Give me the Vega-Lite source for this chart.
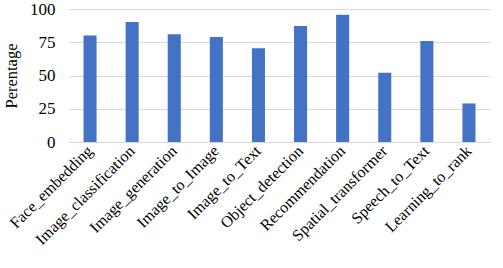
{
  "$schema": "https://vega.github.io/schema/vega-lite/v6.json",
  "width": 421,
  "height": 133,
  "autosize": "none",
  "padding": {"left": 69, "top": 9, "right": 13, "bottom": 126},
  "background": "white",
  "data": {"values": [
    {"model": "Face_embedding", "pct": 80},
    {"model": "Image_classification", "pct": 90.3},
    {"model": "Image_generation", "pct": 81},
    {"model": "Image_to_Image", "pct": 79},
    {"model": "Image_to_Text", "pct": 70.5},
    {"model": "Object_detection", "pct": 87.2},
    {"model": "Recommendation", "pct": 95.6},
    {"model": "Spatial_transformer", "pct": 52},
    {"model": "Speech_to_Text", "pct": 76},
    {"model": "Learning_to_rank", "pct": 29}
  ]},
  "mark": {"type": "bar", "color": "#4472C4"},
  "encoding": {
    "x": {
      "field": "model", "type": "nominal", "sort": null,
      "scale": {"paddingInner": 0.69, "paddingOuter": 0.345},
      "axis": {
        "title": null, "labelAngle": -45, "labelAlign": "right", "labelBaseline": "middle",
        "labelFont": "Liberation Serif", "labelFontSize": 16, "labelColor": "#000",
        "ticks": false, "domain": true, "domainColor": "#d9d9d9", "labelPadding": 6
      }
    },
    "y": {
      "field": "pct", "type": "quantitative",
      "scale": {"domain": [0, 100]},
      "axis": {
        "title": "Perentage", "values": [0, 25, 50, 75, 100],
        "titleFont": "Liberation Serif", "titleFontSize": 16.5, "titleFontWeight": "normal", "titleColor": "#000",
        "titlePadding": 10,
        "labelFont": "Liberation Serif", "labelFontSize": 17, "labelColor": "#000", "labelPadding": 14,
        "ticks": false, "domain": false, "gridColor": "#d9d9d9", "gridWidth": 1
      }
    }
  },
  "config": {"view": {"stroke": null}}
}
